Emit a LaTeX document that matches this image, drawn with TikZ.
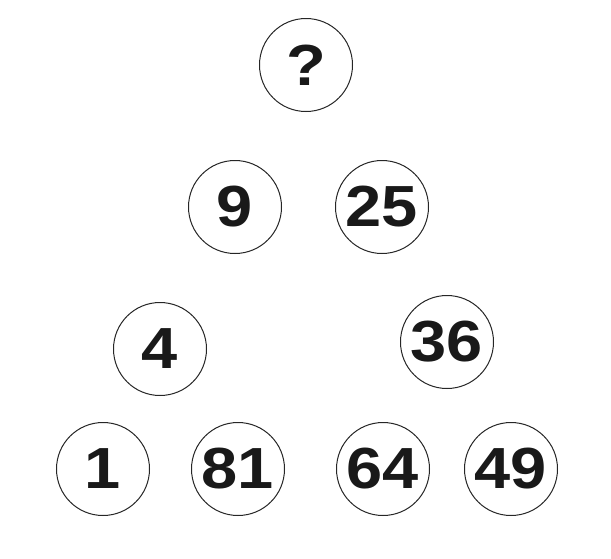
\documentclass[tikz,border=0pt]{standalone}
\usepackage{fontspec}
\newfontfamily\ballfont{Liberation Sans}[FakeStretch=1.12]
\usepackage{tikz}
\tikzstyle{every node}=[circle, draw=black!85, line width=1pt, minimum size=93pt, inner sep=0pt,
    font=\ballfont\bfseries\fontsize{58}{60}\selectfont, text=black!90]

\begin{document}
\begin{tikzpicture}[x=1pt, y=-1pt]
    \useasboundingbox (0,0) rectangle (611,558);
% Top
    \node (top) at (306,65) {?};
% Second row
    \node (nine) at (235,207) {9};
    \node (twentyfive) at (382,207) {25};
% Third row
    \node (four) at (160,349) {4};
    \node (thirtysix) at (447,342) {36};
% Bottom row
    \node (one) at (103,469) {1};
    \node (eightyone) at (238,469) {81};
    \node (sixtyfour) at (383,469) {64};
    \node (fortynine) at (511,469) {49};
\end{tikzpicture}
\end{document}
